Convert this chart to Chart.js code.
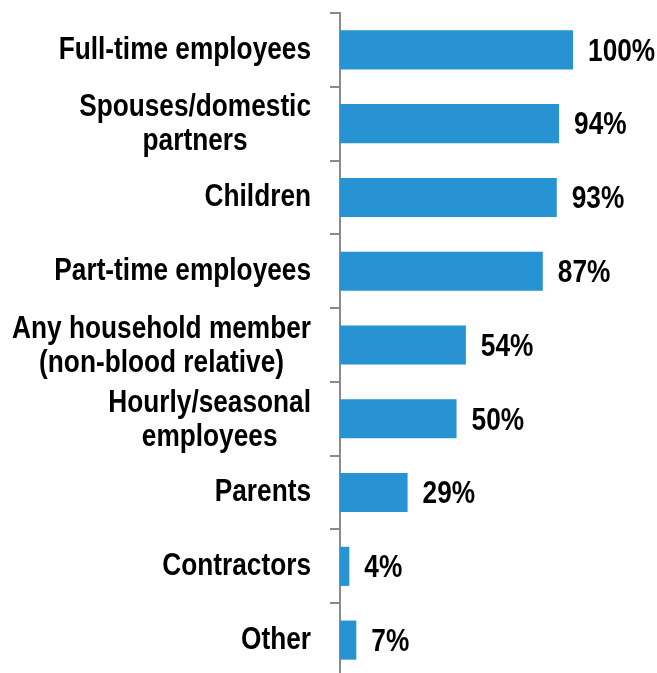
<!DOCTYPE html>
<html>
<head>
<meta charset="utf-8">
<title>Eligible groups</title>
<script src="https://cdn.jsdelivr.net/npm/chart.js@4/dist/chart.umd.min.js"></script>
<style>
  html, body { margin: 0; padding: 0; background: #ffffff; overflow: hidden; }
  canvas { display: block; }
</style>
</head>
<body>
<canvas id="chart" width="657" height="677"></canvas>
<script>
// Category labels (each entry is the list of lines drawn for that row)
const categories = [
  ['Full-time employees'],
  ['Spouses/domestic', 'partners'],
  ['Children'],
  ['Part-time employees'],
  ['Any household member', '(non-blood relative)'],
  ['Hourly/seasonal', 'employees'],
  ['Parents'],
  ['Contractors'],
  ['Other']
];

// Share of respondents (%)
const values = [100, 94, 93, 87, 54, 50, 29, 4, 7];

const BAR_COLOR = '#2793d2';
const AXIS_COLOR = '#8a8a8a';
const TEXT_COLOR = '#000000';
const FONT_SIZE = 32;
const LINE_HEIGHT = 34;

// Prefer a condensed face; otherwise squeeze the regular face horizontally.
function fontAvailable(name) {
  const ctx = document.createElement('canvas').getContext('2d');
  const sample = 'Full-time employees 100%';
  ctx.font = 'bold 40px monospace';
  const a = ctx.measureText(sample).width;
  ctx.font = "bold 40px '" + name + "', monospace";
  const b = ctx.measureText(sample).width;
  return a !== b;
}
const hasNarrow = fontAvailable('Liberation Sans Narrow');
const FONT_FAMILY = hasNarrow ? "'Liberation Sans Narrow'" : "'Liberation Sans', Arial";
const SCALE_X = hasNarrow ? 1 : 0.82;
const FONT = 'bold ' + FONT_SIZE + 'px ' + FONT_FAMILY;

function drawText(ctx, text, x, y, align) {
  ctx.save();
  ctx.translate(x, y);
  ctx.scale(SCALE_X, 1);
  ctx.textAlign = align;
  ctx.textBaseline = 'middle';
  ctx.fillText(text, 0, 0);
  ctx.restore();
}

// Row labels: each block ends before the axis ticks, its lines centred within the block
const rowLabels = {
  id: 'rowLabels',
  afterDraw(chart) {
    const ctx = chart.ctx;
    const y = chart.scales.y;
    const tickLen = y.options.grid.tickLength;
    const right = y.right - tickLen - 19;
    ctx.save();
    ctx.font = FONT;
    ctx.fillStyle = TEXT_COLOR;
    chart.data.labels.forEach((lines, i) => {
      const cy = y.getPixelForTick(i);
      const widths = lines.map(l => ctx.measureText(l).width * SCALE_X);
      const blockW = Math.max(...widths);
      const cx = right - blockW / 2;
      const top = cy - (lines.length - 1) * LINE_HEIGHT / 2 + (lines.length > 1 ? 1 : 0);
      lines.forEach((l, k) => drawText(ctx, l, cx, top + k * LINE_HEIGHT, 'center'));
    });
    ctx.restore();
  }
};

// Value labels to the right of each bar
const valueLabels = {
  id: 'valueLabels',
  afterDatasetsDraw(chart) {
    const ctx = chart.ctx;
    const meta = chart.getDatasetMeta(0);
    const data = chart.data.datasets[0].data;
    ctx.save();
    ctx.font = FONT;
    ctx.fillStyle = TEXT_COLOR;
    meta.data.forEach((bar, i) => {
      drawText(ctx, data[i] + '%', bar.x + 15, bar.y + 2, 'left');
    });
    ctx.restore();
  }
};

new Chart(document.getElementById('chart'), {
  type: 'bar',
  data: {
    labels: categories,
    datasets: [{
      data: values,
      backgroundColor: BAR_COLOR,
      borderWidth: 0,
      categoryPercentage: 1,
      barPercentage: 0.53
    }]
  },
  options: {
    indexAxis: 'y',
    responsive: false,
    animation: false,
    events: [],
    layout: { padding: { top: 13, right: 0, bottom: 0, left: 0 } },
    plugins: {
      legend: { display: false },
      tooltip: { enabled: false }
    },
    scales: {
      x: {
        display: false,
        min: 0,
        max: 136
      },
      y: {
        position: 'left',
        offset: true,
        afterFit(scale) { scale.width = 340; },
        ticks: { display: false },
        grid: {
          display: true,
          offset: true,
          drawOnChartArea: false,
          drawTicks: true,
          tickLength: 10,
          color: AXIS_COLOR,
          lineWidth: 2
        },
        border: { display: true, color: AXIS_COLOR, width: 2 }
      }
    }
  },
  plugins: [rowLabels, valueLabels]
});
</script>
</body>
</html>
